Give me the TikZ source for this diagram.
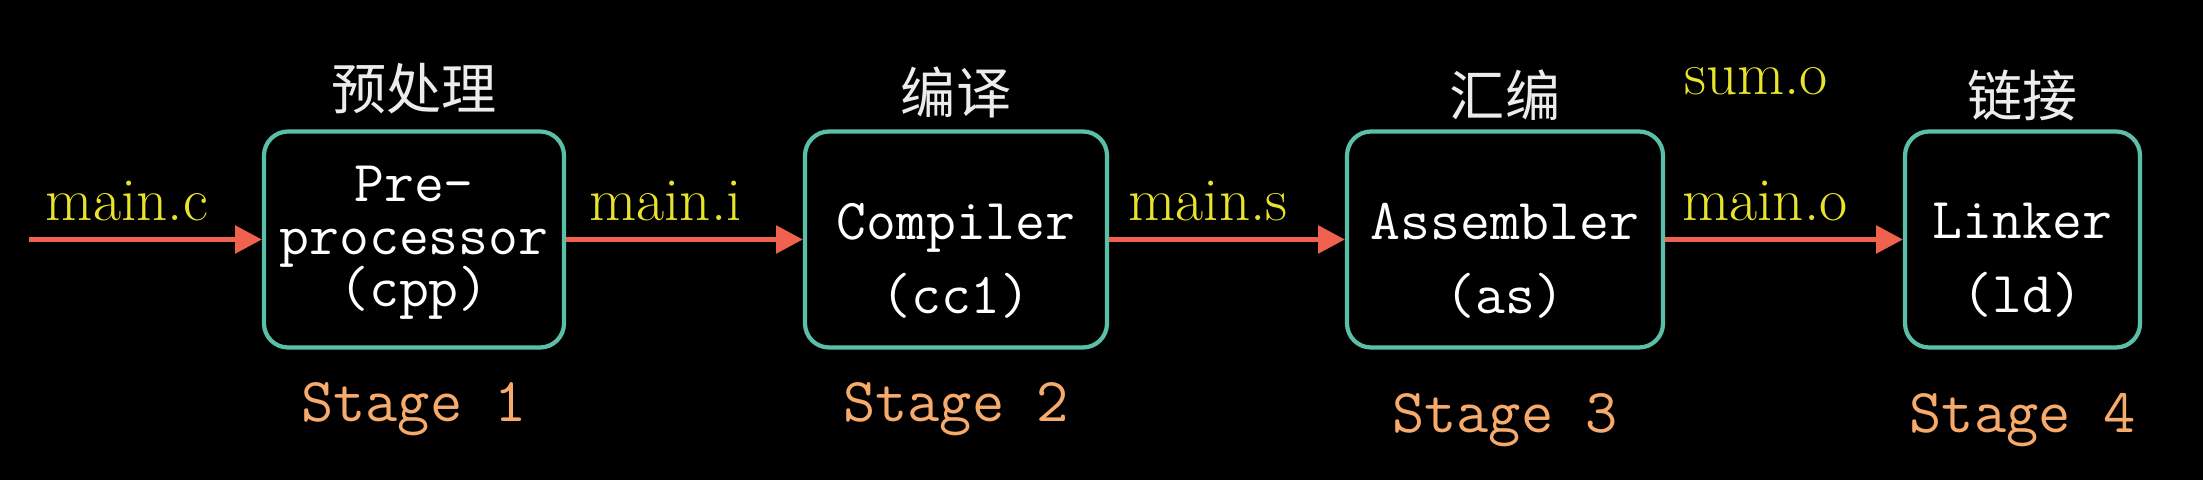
\documentclass[tikz,border=0pt]{standalone}
\usepackage{fontspec}
\newfontfamily\cnfont{Noto Sans CJK SC}
\usetikzlibrary{arrows.meta}
\definecolor{boxteal}{RGB}{90,190,168}
\definecolor{flowred}{RGB}{240,98,78}
\definecolor{fileyellow}{RGB}{232,228,44}
\definecolor{stageorange}{RGB}{246,170,108}
\definecolor{cngray}{RGB}{236,236,236}
\newcommand\looselines{\setlength{\lineskiplimit}{-20pt}}

\begin{document}
\begin{tikzpicture}[
    stagebox/.style={draw=boxteal,line width=1.2pt,rounded corners=0.24cm,
        minimum height=2.16cm,inner sep=0pt,outer sep=0.02cm},
    toolname/.style={text=white,align=center,
        font=\looselines\ttfamily\fontsize{16.5}{21}\selectfont},
    flow/.style={draw=flowred,line width=1.6pt,-{Triangle[length=0.27cm,width=0.27cm]}},
    filename/.style={text=fileyellow,font=\fontsize{17.4}{20}\selectfont,inner sep=0pt},
    cnname/.style={text=cngray,font=\cnfont\fontsize{15.7}{18}\selectfont},
    stagename/.style={text=stageorange,font=\ttfamily\fontsize{17.8}{20}\selectfont,anchor=base}
]
    \fill[black] (0,0) rectangle (22.03,4.80);
    \useasboundingbox (0,0) rectangle (22.03,4.80);

    % the four tools
    \node[stagebox,minimum width=3.00cm] (cpp) at (4.14,2.405) {};
    \node[stagebox,minimum width=3.02cm] (cc1) at (9.56,2.405) {};
    \node[stagebox,minimum width=3.16cm] (as) at (15.05,2.405) {};
    \node[stagebox,minimum width=2.35cm] (ld) at (20.225,2.405) {};

    \node[toolname,font=\looselines\ttfamily\fontsize{16.5}{14.9}\selectfont]
        (cpptext) at ([yshift=-0.035cm]cpp.center) {Pre-\\processor\\(cpp)};
    \node[toolname] (cc1text) at ([yshift=-0.21cm]cc1.center) {Compiler\\(cc1)};
    \node[toolname] (astext) at ([yshift=-0.21cm]as.center) {Assembler\\(as)};
    \node[toolname] (ldtext) at ([yshift=-0.21cm]ld.center) {Linker\\(ld)};

    % chinese titles
    \node[cnname] (cpptitle) at ([yshift=0.41cm]cpp.north) {预处理};
    \node[cnname] (cc1title) at ([yshift=0.37cm]cc1.north) {编译};
    \node[cnname] (astitle) at ([yshift=0.34cm]as.north) {汇编};
    \node[cnname] (ldtitle) at ([yshift=0.34cm]ld.north) {链接};

    % stages
    \node[stagename] (stage1) at ([yshift=-0.72cm]cpp.south) {Stage 1};
    \node[stagename] (stage2) at ([yshift=-0.72cm]cc1.south) {Stage 2};
    \node[stagename] (stage3) at ([yshift=-0.83cm]as.south) {Stage 3};
    \node[stagename] (stage4) at ([yshift=-0.83cm]ld.south) {Stage 4};

    % files
    \coordinate (src) at (0.29,2.405);
    \draw[flow] (src) -- node[filename,pos=0.42,above=0.16cm] (mainc) {main.c} (cpp);
    \draw[flow] (cpp) -- node[filename,pos=0.42,above=0.16cm] (maini) {main.i} (cc1);
    \draw[flow] (cc1) -- node[filename,pos=0.42,above=0.16cm] (mains) {main.s} (as);
    \draw[flow] (as) -- node[filename,pos=0.42,above=0.16cm] (maino) {main.o} (ld);
    \node[filename,anchor=base] (sumo) at (17.56,3.85) {sum.o};
\end{tikzpicture}
\end{document}
